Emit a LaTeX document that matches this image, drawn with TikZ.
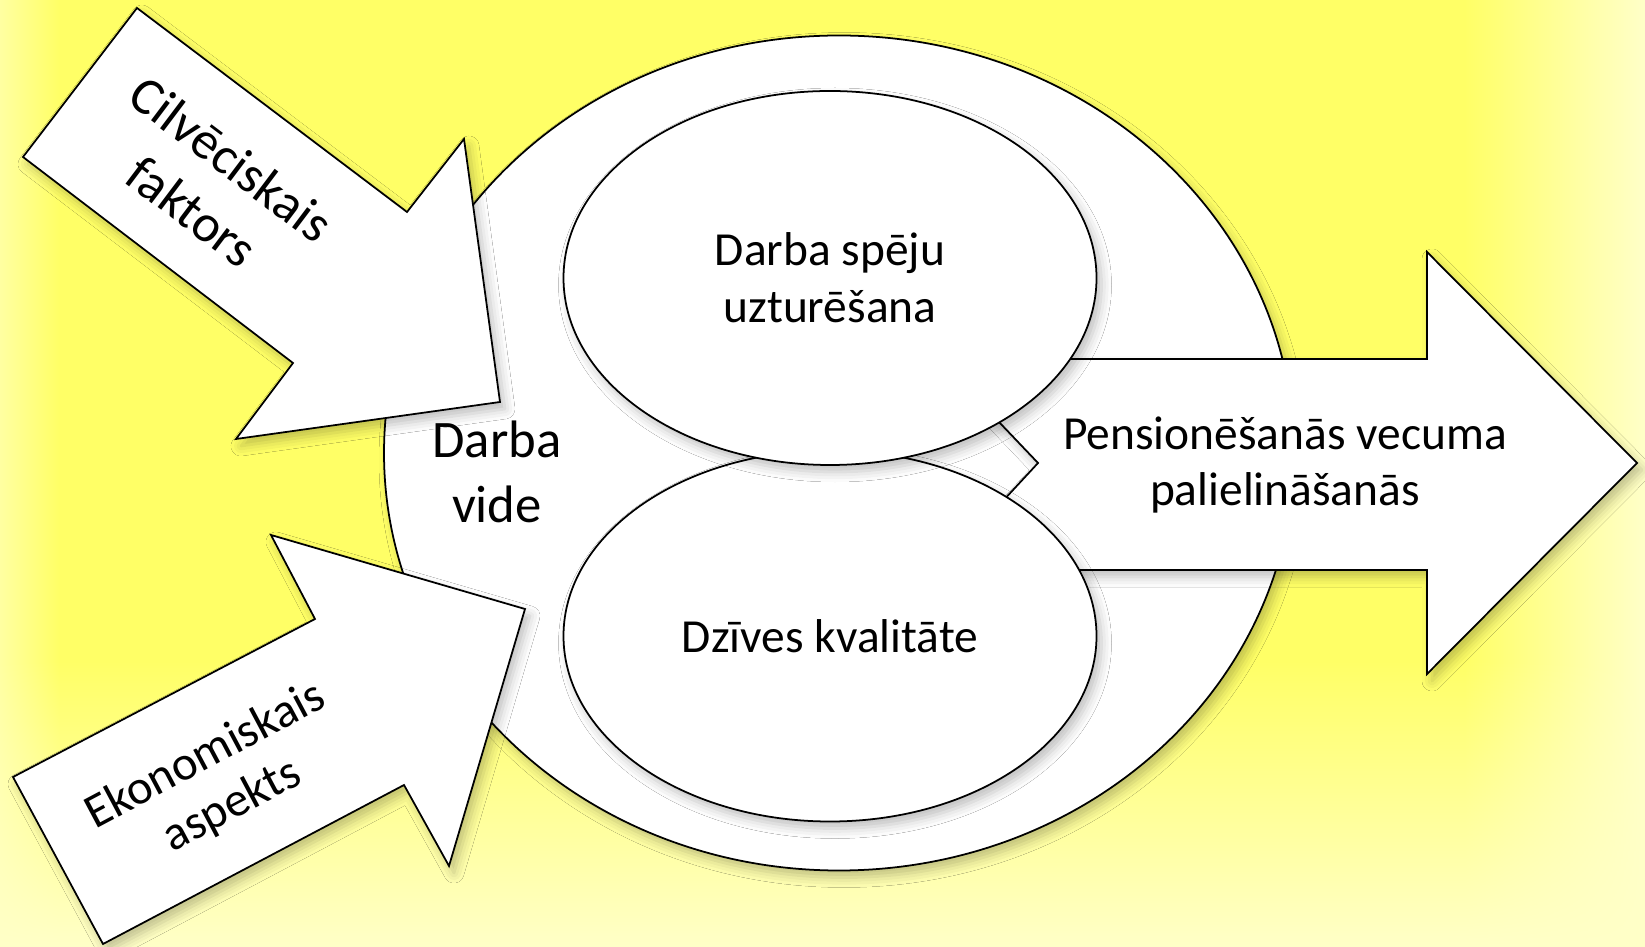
\documentclass[tikz,border=0pt]{standalone}
\usepackage{fontspec}
\setmainfont{Carlito}
\usetikzlibrary{shapes.geometric}
\usetikzlibrary{fadings}
\usetikzlibrary{shadows.blur}

\definecolor{bgmid}{HTML}{FFFF66}
\definecolor{bgedge}{HTML}{FFFFC8}
\pgfdeclarehorizontalshading{bgshade}{100bp}{color(0bp)=(bgedge!60!bgmid); color(25bp)=(bgedge!60!bgmid); color(26.8bp)=(bgmid); color(69.5bp)=(bgmid); color(75bp)=(bgedge); color(100bp)=(bgedge)}
\tikzfading[name=fadebottom, top color=transparent!100, bottom color=transparent!0]

\tikzset{
  panel/.style={draw=black, fill=white, line width=0.5pt, line join=miter,
    blur shadow={shadow xshift=0.5mm, shadow yshift=-0.7mm, shadow blur radius=1mm, shadow opacity=25}},
  txt/.style={align=center, font=\fontsize{13.5}{16.2}\selectfont},
  bigtxt/.style={align=center, font=\fontsize{15}{18.5}\selectfont},
}

\begin{document}
\begin{tikzpicture}[x=0.1mm, y=-0.1mm]
  \useasboundingbox (0,0) rectangle (1645,947);
  % background
  \shade[shading=bgshade] (0,0) rectangle (1645,947);
  \fill[bgedge, path fading=fadebottom] (0,660) rectangle (1645,947);

  % work environment
  \node[panel, ellipse, minimum width=91mm, minimum height=83.5mm] (vide) at (839,453) {};

  % arrows coming in
  \filldraw[panel] (137,8) -- (407,212) -- (464,139) -- (500,402) -- (236,439) -- (293,363) -- (23,157) -- cycle;
  \filldraw[panel] (13,777) -- (315,619) -- (271,535) -- (525,609) -- (449,866) -- (404,785) -- (103,944) -- cycle;

  % arrow going out
  \filldraw[panel] (939,359) -- (1427,359) -- (1427,252) -- (1637,463) -- (1427,674) -- (1427,570) -- (939,570) -- (1038,463) -- cycle;

  % inner ellipses
  \node[panel, ellipse, minimum width=53.3mm, minimum height=37.1mm, txt] (dzive) at (830,636) {Dzīves kvalitāte};
  \node[panel, ellipse, minimum width=53.3mm, minimum height=37.4mm, txt] (spejas) at (830,278) {Darba spēju\\uzturēšana};

  % texts
  \node[bigtxt] (videtxt) at (497,472) {Darba\\vide};
  \node[txt] (pens) at (1285,465) {Pensionēšanās vecuma\\palielināšanās};
  \node[bigtxt, rotate=-37] (cilv) at (212,185) {Cilvēciskais\\faktors};
  \node[bigtxt, rotate=28, font=\fontsize{13.8}{16}\selectfont] (ekon) at (219,781) {Ekonomiskais\\aspekts};
\end{tikzpicture}
\end{document}
